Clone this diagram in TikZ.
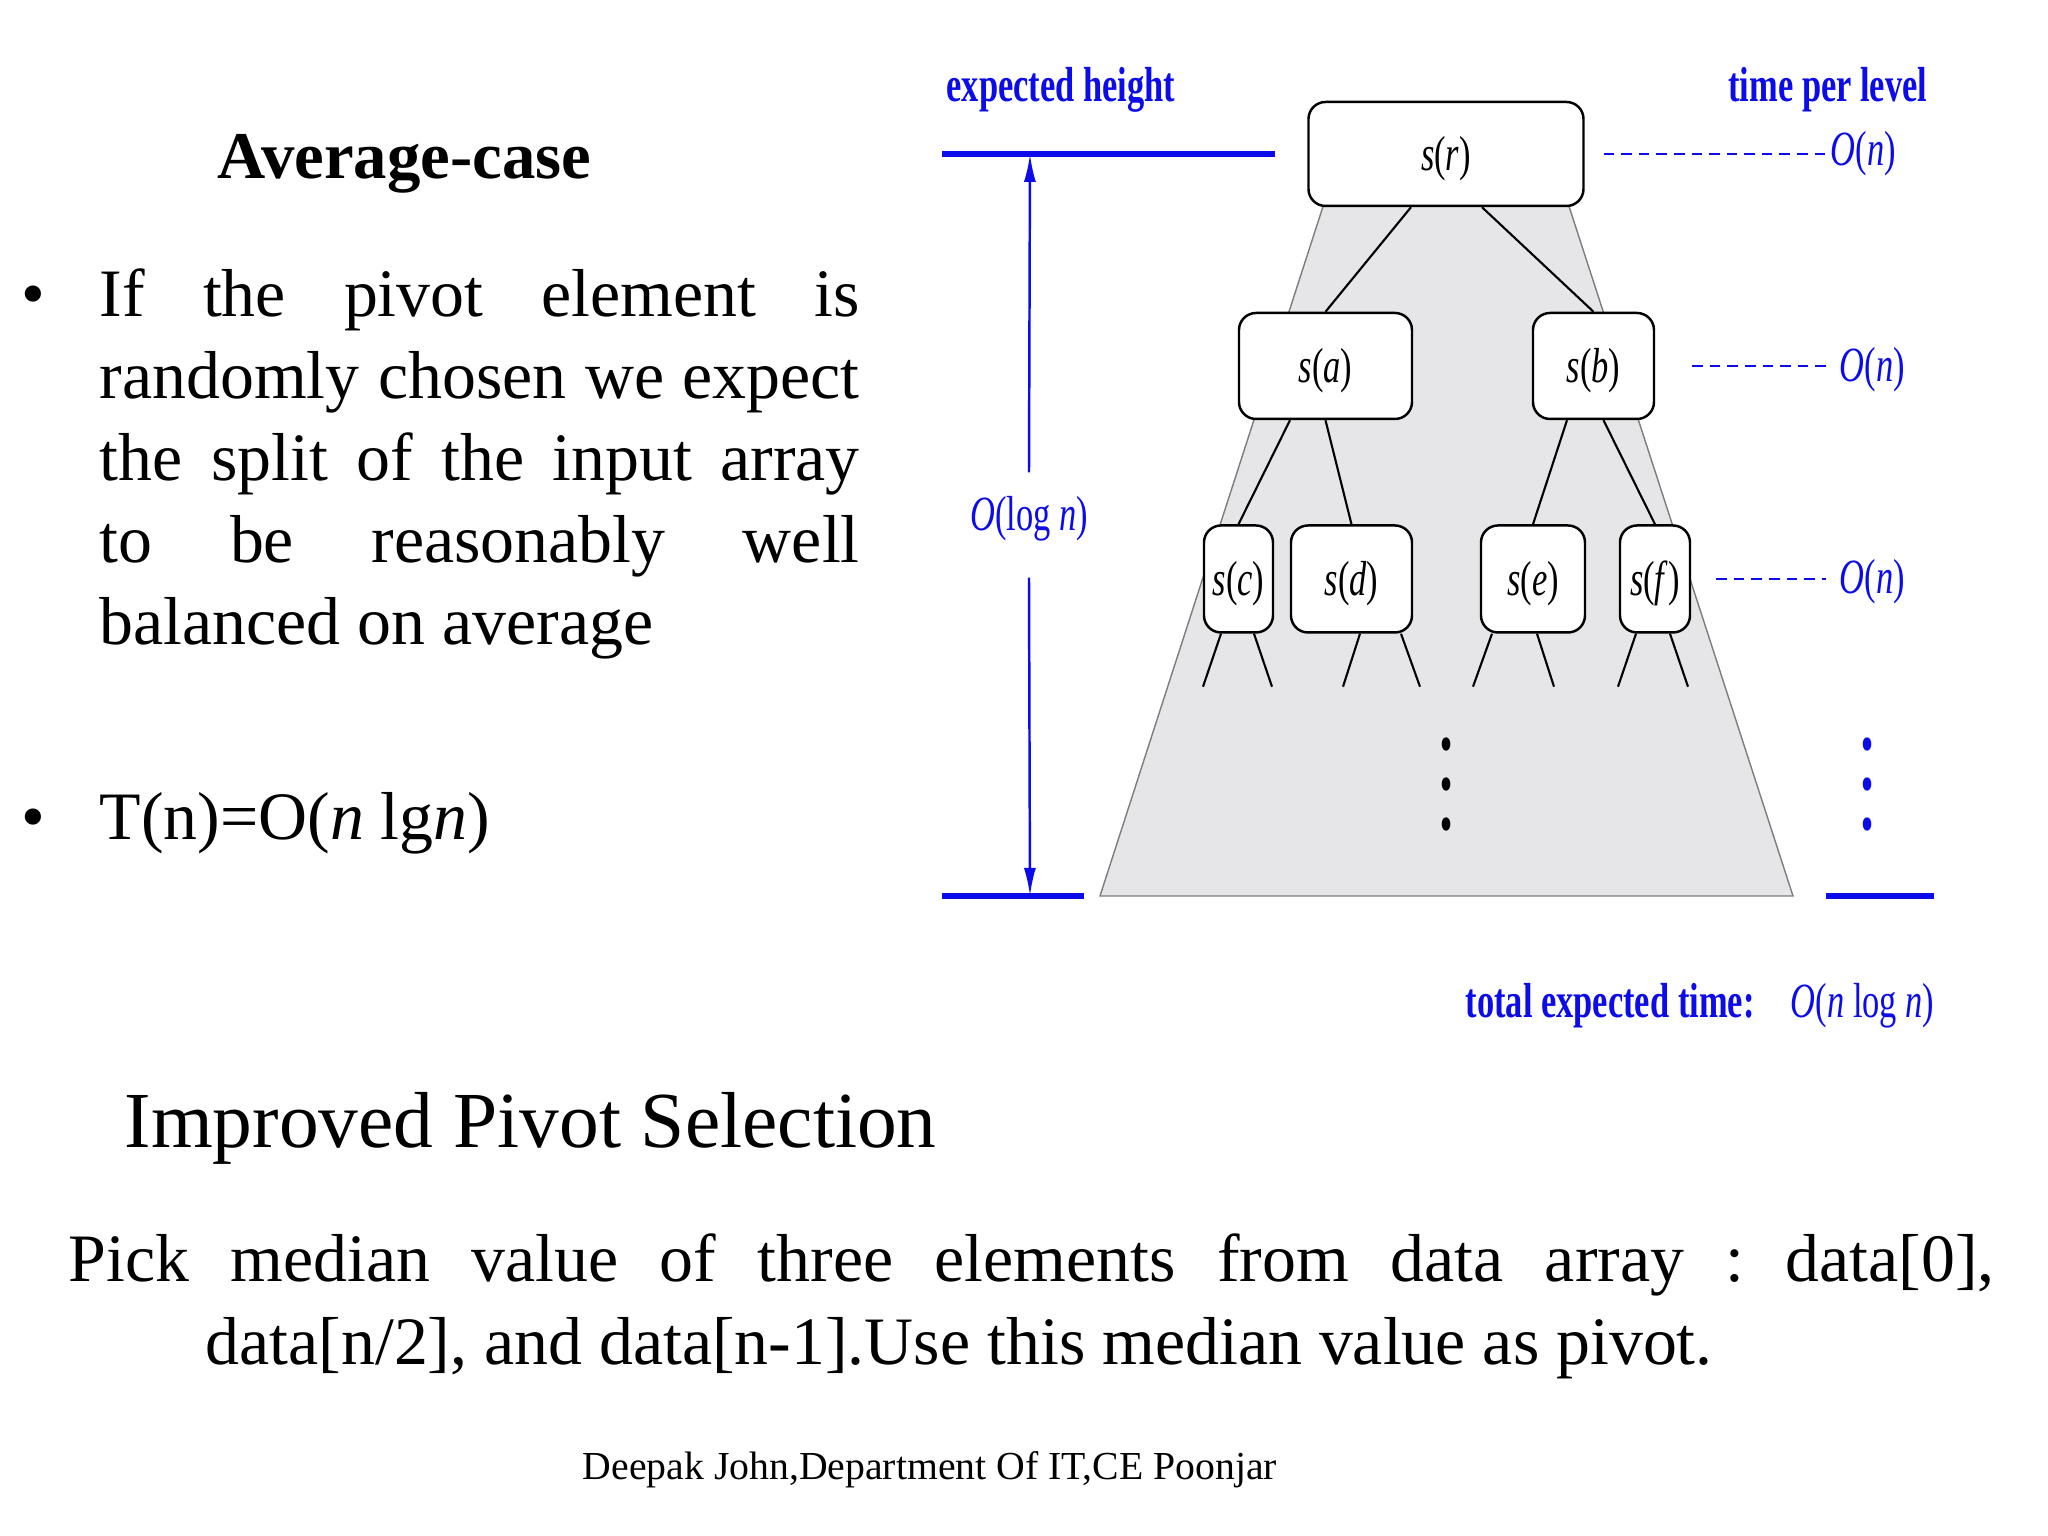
\documentclass[tikz,border=0pt]{standalone}
\usepackage{fontspec}
\setmainfont{Liberation Serif}
\newfontfamily\figfont[FakeStretch=0.7]{Liberation Serif}
\usetikzlibrary{arrows.meta, positioning, calc}
\definecolor{labelblue}{RGB}{12,12,235}
\definecolor{conefill}{RGB}{230,230,233}
\definecolor{coneline}{RGB}{125,125,125}
\frenchspacing

\begin{document}
\begin{tikzpicture}
   [
      % Rounded box of one subproblem
      tree node/.style={draw, line width=0.7pt, rounded corners=0.17cm, fill=white, minimum height=1.06cm, inner sep=1pt, text height=0.42cm, text depth=0.08cm, font=\figfont\fontsize{14}{16}\selectfont},
      % Lines of the recursion tree
      tree edge/.style={line width=0.6pt},
      % Blue annotations of the figure
      blue label/.style={text=labelblue, inner sep=0pt, font=\figfont\fontsize{14}{16}\selectfont},
      blue title/.style={blue label, font=\figfont\bfseries\fontsize{14}{16}\selectfont},
      level dash/.style={labelblue, line width=0.6pt, dash pattern=on 3pt off 2pt},
      height bar/.style={labelblue, line width=1.8pt},
      height arrow/.style={labelblue, line width=0.7pt, -{Latex[length=0.28cm, width=0.12cm]}},
      % Slide text
      body text/.style={inner sep=0pt, anchor=base west, font=\fontsize{19.3}{21.6}\selectfont}
   ]

    % white page
    \fill[white] (0,0) rectangle (20.48,15.36);
    \useasboundingbox (0,0) rectangle (20.48,15.36);

    % =======================================================
    % Left column: average case
    % =======================================================
    \node[anchor=base, inner sep=0pt, font=\bfseries\fontsize{19}{22}\selectfont] (avg) at (4.045,13.57) {Average-case};

    \node[body text, anchor=base] (bullet1) at (0.33,12.19) {\textbullet};
    \foreach \txt [count=\i from 0] in {If the pivot element is,randomly chosen we expect,the split of the input array,to be reasonably well}
      \node[body text] (line\i) at (0.99,{12.19-0.82*\i}) {\makebox[7.6cm][s]{\txt}};
    \node[body text] (line4) at (0.99,8.91) {balanced on average};

    \node[body text, anchor=base] (bullet2) at (0.33,6.96) {\textbullet};
    \node[body text] (tn) at (0.99,6.96) {T(n)=O(\textit{n} lg\textit{n})};

    % =======================================================
    % Bottom: improved pivot selection
    % =======================================================
    \node[anchor=base west, inner sep=0pt, font=\fontsize{22.6}{26}\selectfont] (improved) at (1.24,3.88) {Improved Pivot Selection};
    \node[body text] (pick1) at (0.68,2.54) {\makebox[19.26cm][s]{Pick median value of three elements from data array : data[0],}};
    \node[body text] (pick2) at (2.05,1.71) {data[n/2], and data[n-1].Use this median value as pivot.};
    \node[anchor=base, inner sep=0pt, font=\fontsize{11.3}{13}\selectfont] (footer) at (9.30,0.56) {Deepak John,Department Of IT,CE Poonjar};

    % =======================================================
    % Right: recursion tree
    % =======================================================

    % gray cone behind the tree
    \fill[conefill, draw=coneline, line width=0.4pt] (13.40,13.82) -- (15.52,13.82) -- (17.93,6.40) -- (11.00,6.40) -- cycle;

    % Subproblems
    \node[tree node, minimum width=2.75cm, minimum height=1.04cm] (sr) at (14.46,13.82) {\textit{s}(\textit{r})};
    \node[tree node, minimum width=1.73cm] (sa) at (13.255,11.70) {\textit{s}(\textit{a})};
    \node[tree node, minimum width=1.21cm] (sb) at (15.935,11.70) {\textit{s}(\textit{b})};
    \node[tree node, minimum width=0.69cm, minimum height=1.07cm] (sc) at (12.385,9.57) {\textit{s}(\textit{c})};
    \node[tree node, minimum width=1.21cm, minimum height=1.07cm] (sd) at (13.515,9.57) {\textit{s}(\textit{d})};
    \node[tree node, minimum width=1.04cm, minimum height=1.07cm] (se) at (15.33,9.57) {\textit{s}(\textit{e})};
    \node[tree node, minimum width=0.70cm, minimum height=1.07cm] (sf) at (16.55,9.57) {\textit{s}(\textit{f})};

    % Edges
    \draw[tree edge] ([xshift=-0.35cm]sr.south) -- (sa.north);
    \draw[tree edge] ([xshift=0.36cm]sr.south) -- (sb.north);
    \draw[tree edge] ([xshift=-0.355cm]sa.south) -- (sc.north);
    \draw[tree edge] (sa.south) -- (sd.north);
    \draw[tree edge] ([xshift=-0.265cm]sb.south) -- (se.north);
    \draw[tree edge] ([xshift=0.10cm]sb.south) -- (sf.north);

    % stubs of the next level
    \foreach \nd/\sx/\ex in {sc/-0.175/-0.18, sc/0.155/0.18, sd/0.085/-0.17, sd/0.495/0.19, se/-0.41/-0.19, se/0.04/0.17, sf/-0.19/-0.18, sf/0.15/0.18}
      \draw[tree edge] ([xshift=\sx cm]\nd.south) -- ++(\ex,-0.53);

    % vertical dots
    \foreach \y in {7.92,7.52,7.12} {
      \fill (14.46,\y) ellipse [x radius=0.043, y radius=0.067];
      \fill[labelblue] (18.67,\y) ellipse [x radius=0.043, y radius=0.067];
    }

    % Expected height
    \node[blue title, anchor=base west] (eh) at (9.46,14.34) {expected height};
    \coordinate (ht top) at (10.30,13.82);
    \coordinate (ht bot) at (10.30,6.40);
    \draw[height bar] (9.42,13.82) -- (12.75,13.82);
    \draw[height bar] (9.42,6.40) -- (10.84,6.40);
    \draw[height bar] (18.26,6.40) -- (19.34,6.40);
    \node[blue label, anchor=base, text height=0.58cm, text depth=0.46cm] (logn) at (10.29,10.05) {\textit{O}(log \textit{n})};
    \draw[height arrow] (logn.north) -- (ht top);
    \draw[height arrow] (logn.south) -- (ht bot);

    % Time per level
    \node[blue title, anchor=base east] (tpl) at (19.28,14.34) {time per level};
    \node[blue label, anchor=base west] (on0) at (18.30,13.70) {\textit{O}(\textit{n})};
    \node[blue label, anchor=base west] (on1) at (18.39,11.54) {\textit{O}(\textit{n})};
    \node[blue label, anchor=base west] (on2) at (18.39,9.42) {\textit{O}(\textit{n})};
    \draw[level dash] ([xshift=0.19cm]sr.east) -- (sr.east -| on0.west);
    \draw[level dash, shorten >=0.13cm] ([xshift=0.37cm]sb.east) -- (sb.east -| on1.west);
    \draw[level dash, shorten >=0.13cm] ([xshift=0.25cm]sf.east) -- (sf.east -| on2.west);

    % Total
    \node[blue title, anchor=base west] (total) at (14.65,5.18) {total expected time:};
    \node[blue label, right=0.35cm of total.base east, anchor=base west] (totaln) {\textit{O}(\textit{n} log \textit{n})};

\end{tikzpicture}
\end{document}
